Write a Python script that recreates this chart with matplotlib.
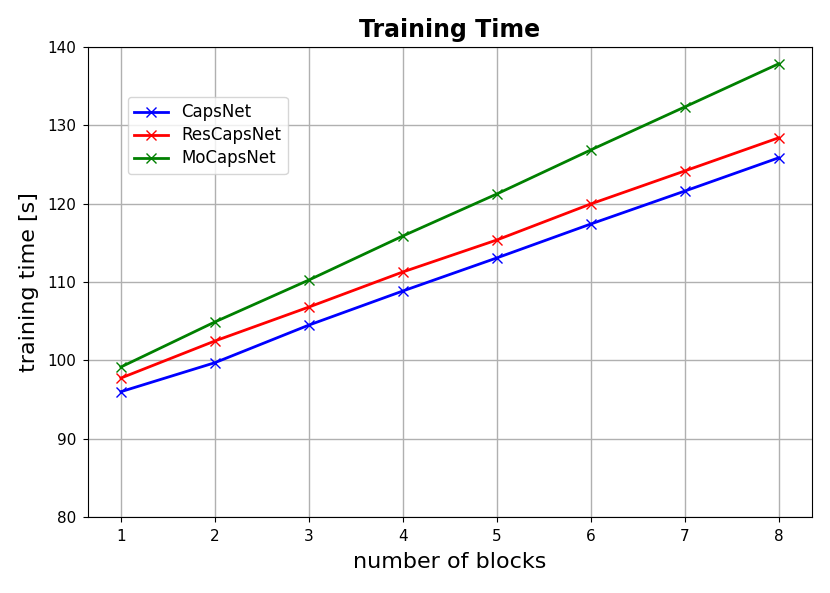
import matplotlib
matplotlib.use("Agg")
import matplotlib.pyplot as plt

blocks = [1, 2, 3, 4, 5, 6, 7, 8]
capsnet = [96.0, 99.7, 104.5, 108.85, 113.07, 117.4, 121.6, 125.85]
rescapsnet = [97.74, 102.47, 106.8, 111.28, 115.36, 119.96, 124.17, 128.4]
mocapsnet = [99.15, 104.9, 110.25, 115.87, 121.23, 126.85, 132.34, 137.85]

fig = plt.figure(figsize=(8.3, 5.93), dpi=100)
ax = fig.add_axes([0.106, 0.128, 0.872, 0.793])

ax.plot(blocks, capsnet, color='blue', marker='x', markersize=7, linewidth=2, label='CapsNet')
ax.plot(blocks, rescapsnet, color='red', marker='x', markersize=7, linewidth=2, label='ResCapsNet')
ax.plot(blocks, mocapsnet, color='green', marker='x', markersize=7, linewidth=2, label='MoCapsNet')

ax.set_ylim(80, 140)
ax.set_xticks(blocks)
ax.tick_params(labelsize=11, pad=5)
ax.grid(True, color='#b0b0b0', linewidth=1)
ax.set_title('Training Time', fontsize=17, fontweight='bold', pad=7)
ax.set_xlabel('number of blocks', fontsize=16, labelpad=6)
ax.set_ylabel('training time [s]', fontsize=16, labelpad=6)
ax.legend(loc='upper left', bbox_to_anchor=(0.055, 0.894), borderaxespad=0,
          fontsize=12, labelspacing=0.3)

fig.savefig('out.png', dpi=100)
